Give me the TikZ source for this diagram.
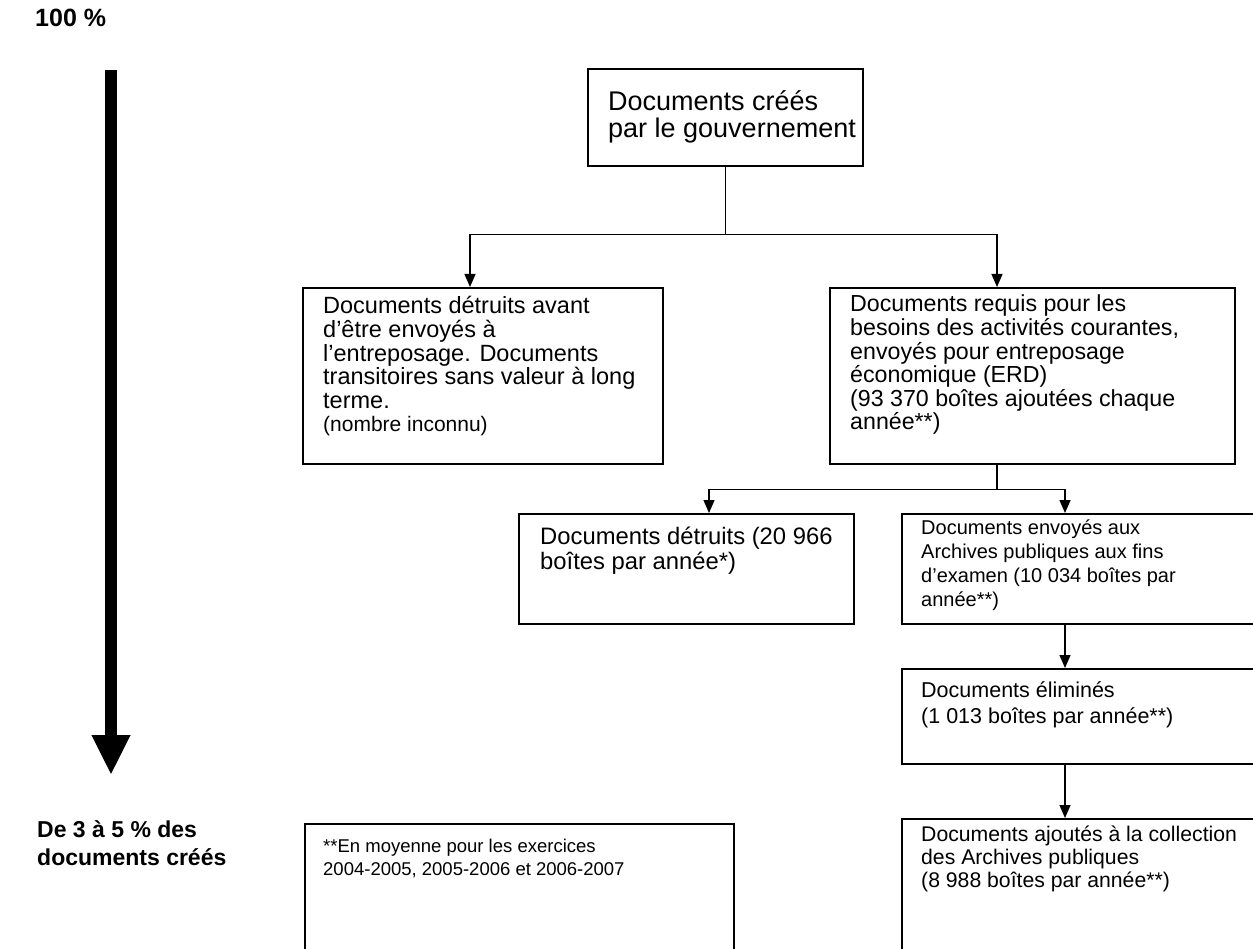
\documentclass[tikz,border=0pt]{standalone}
\usepackage{fontspec}
\setmainfont{Liberation Sans}
\usetikzlibrary{arrows.meta,calc}
\newcommand{\lines}[3]{\parbox[t]{420pt}{\fontsize{#1}{#2}\selectfont\raggedright #3}}
\tikzset{
  box/.style={draw, line width=1.6pt, anchor=north west, inner sep=0pt},
  txt/.style={inner sep=0pt, anchor=base west},
  conn/.style={line width=1.4pt},
  arr/.style={line width=1.4pt, -{Triangle[width=11pt,length=13pt]}},
  bigarr/.style={line width=12pt, -{Triangle[width=36pt,length=40pt]}}
}
\begin{document}
\begin{tikzpicture}[x=1pt,y=-1pt]
\useasboundingbox (0,0) rectangle (1253,949);
\fill[white] (0,0) rectangle (1253,949);
\clip (0,0) rectangle (1253,949);

% left scale
\node[txt] (p100) at (35,27) {\lines{25}{28}{\bfseries 100 \%}};
\node[txt] (p35) at (37,837) {\lines{23}{28}{\bfseries De 3 à 5 \% des\\documents créés}};
\coordinate (atop) at (111,70);
\coordinate (atip) at (111,775);
\draw[bigarr] (atop) -- (atip);

% boxes
\node[box, minimum width=275pt, minimum height=97pt] (top) at (587,68) {};
\node[txt] (ttop) at ($(top.north west)+(21,43)$)
  {\lines{27}{27}{Documents créés\\par le gouvernement}};

\node[box, minimum width=360pt, minimum height=176pt] (lc) at (302,287) {};
\node[txt] (tlc) at ($(lc.north west)+(21,27)$)
  {\lines{23.5}{23.6}{Documents détruits avant\\d’être envoyés à\\l’entreposage. Documents\\transitoires sans valeur à long\\terme.\\{\fontsize{21}{23.6}\selectfont (nombre inconnu)}}};

\node[box, minimum width=405pt, minimum height=176pt] (rc) at (829,287) {};
\node[txt] (trc) at ($(rc.north west)+(21,25)$)
  {\lines{23.2}{23.6}{Documents requis pour les\\besoins des activités courantes,\\envoyés pour entreposage\\économique (ERD)\\(93 370 boîtes ajoutées chaque\\année**)}};

\node[box, minimum width=335pt, minimum height=110pt] (l3l) at (518,513) {};
\node[txt] (tl3l) at ($(l3l.north west)+(22,31)$)
  {\lines{23.8}{25.5}{Documents détruits (20 966\\boîtes par année*)}};

\node[box, minimum width=400pt, minimum height=110pt] (l3r) at (901,513) {};
\node[txt] (tl3r) at ($(l3r.north west)+(20,21)$)
  {\lines{20}{24}{Documents envoyés aux\\Archives publiques aux fins\\d’examen (10 034 boîtes par\\année**)}};

\node[box, minimum width=400pt, minimum height=95pt] (elim) at (901,668) {};
\node[txt] (telim) at ($(elim.north west)+(20,29)$)
  {\lines{21.5}{26}{Documents éliminés\\(1 013 boîtes par année**)}};

\node[box, minimum width=400pt, minimum height=200pt] (bot) at (901,818) {};
\node[txt] (tbot) at ($(bot.north west)+(20,23)$)
  {\lines{21.2}{23}{Documents ajoutés à la collection\\des Archives publiques\\(8 988 boîtes par année**)}};

\node[box, minimum width=429pt, minimum height=200pt] (foot) at (304,823) {};
\node[txt] (tfoot) at ($(foot.north west)+(19,29)$)
  {\lines{18.5}{23}{**En moyenne pour les exercices\\2004-2005, 2005-2006 et 2006-2007}};

% connectors
\coordinate (h1) at ($(top.south)+(0,68)$);
\draw[conn] (top.south) -- (h1);
\draw[arr] (h1) -| ($(lc.north west)+(168,0)$);
\draw[arr] (h1) -| ($(rc.north west)+(168,0)$);
\coordinate (h2) at ($(rc.south west)+(168,25)$);
\draw[conn] ($(rc.south west)+(168,0)$) -- (h2);
\draw[arr] (h2) -| ($(l3l.north west)+(191,0)$);
\draw[arr] (h2) -| ($(l3r.north west)+(164,0)$);
\draw[arr] ($(l3r.south west)+(164,0)$) -- ($(elim.north west)+(164,0)$);
\draw[arr] ($(elim.south west)+(164,0)$) -- ($(bot.north west)+(164,0)$);
\end{tikzpicture}
\end{document}
